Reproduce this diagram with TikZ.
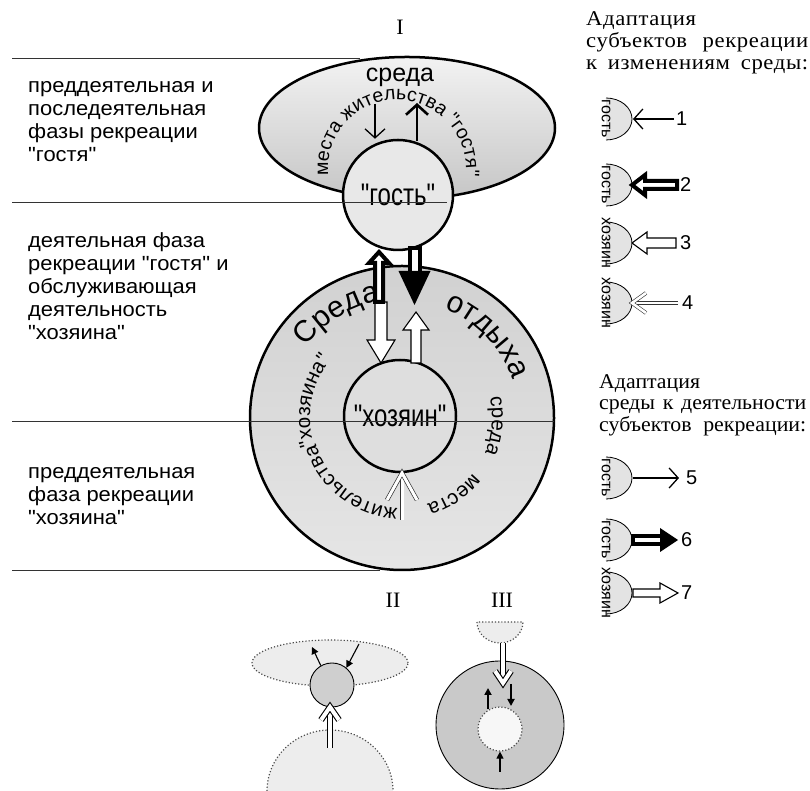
\documentclass[tikz,border=0pt]{standalone}
\usepackage{fontspec}
\setmainfont{Liberation Sans}[Ligatures=TeXOff]
\newfontfamily\tnr{Liberation Serif}
\usepackage{graphicx}
\usetikzlibrary{arrows.meta, decorations.text, shapes.arrows, positioning}

\newcommand\lblfont{\fontsize{20.5}{23}\selectfont\addfontfeatures{FakeStretch=1.07}}
\newcommand\hdrfont{\tnr\fontsize{21}{22}\selectfont\addfontfeatures{FakeStretch=1.08, LetterSpace=3}}
\newcommand\hdrfontb{\tnr\fontsize{21}{21.5}\selectfont\addfontfeatures{FakeStretch=1.04}}
\newcommand\romfont{\tnr\fontsize{22}{22}\selectfont}
\newcommand\ringbig{\fontsize{30}{30}\selectfont}
\newcommand\ringsmall{\fontsize{20.5}{21}\selectfont}
\newcommand\ringtop{\fontsize{19.5}{20}\selectfont}
\newcommand\vertfont{\fontsize{16}{16}\selectfont}
\newcommand\numfont{\fontsize{20}{20}\selectfont}

\tikzset{
  contour/.style={draw=black, line width=2.5pt},
  rule/.style={draw=black!80, line width=.8pt},
  lefttext/.style={anchor=north west, align=left, inner sep=0pt, font=\lblfont},
  halfdisk/.style={draw=black, line width=.8pt, fill=gray!22},
  dotshape/.style={draw=black!70, dotted, line width=1.2pt, fill=gray!14},
  thinarr/.style={line width=1.3pt, -{Straight Barb[length=9pt, width=20pt]}},
  thickarr/.style={line width=2.6pt, -{Straight Barb[length=10pt, width=22pt]}},
  smallarr/.style={line width=1.1pt, -{Triangle[length=7pt, width=7pt]}},
  % block arrow: length, shaft half width, head half width, head length
  pics/blockarr/.style n args={4}{code={
    \path[pic actions] (0,-#2) -- ({#1-#4},-#2) -- ({#1-#4},-#3) -- (#1,0)
      -- ({#1-#4},#3) -- ({#1-#4},#2) -- (0,#2) -- cycle;}},
  % shaft with a solid head
  pics/solidarr/.style n args={4}{code={
    \path[pic actions] (0,-#2) rectangle ({#1-#4},#2);
    \fill[black] ({#1-#4-2},-#3) -- (#1,0) -- ({#1-#4-2},#3) -- cycle;}},
  % double line arrow: length, head half width, head length
  pics/dblarr/.style n args={3}{code={
    \draw[pic actions] (0,0) -- ({#1-2},0);
    \draw[pic actions, line join=miter] ({#1-#3},-#2) -- (#1,0) -- ({#1-#3},#2);}},
}

\begin{document}
\begin{tikzpicture}[x=1pt, y=1pt]
\useasboundingbox (0,0) rectangle (810,791);

% centres
\coordinate (cell) at (407,663);
\coordinate (cring) at (397,622);
\coordinate (cbig) at (402,373);

% среда места жительства гостя
\draw[contour, top color=gray!10, bottom color=gray!45] (cell) ellipse [x radius=148, y radius=71];
% среда отдыха
\draw[contour, top color=gray!36, bottom color=gray!20] (cbig) circle [radius=152];
\node[circle, contour, fill=gray!18, minimum size=110pt, font=\fontsize{24}{24}\selectfont] (gost) at (398,596) {\scalebox{1}[1.3]{"гость"}};
\node[circle, contour, fill=gray!26, minimum size=112pt, font=\fontsize{24}{24}\selectfont] (host) at (400,375) {\scalebox{1}[1.3]{"хозяин"}};

% границы фаз
\draw[rule] (12,733) -- (360,733);
\draw[rule] (12,589) -- (447,589);
\draw[rule] (12,370) -- (554,370);
\draw[rule] (12,221) -- (380,221);

% подписи фаз
\node[lefttext] (phase1) at (28,710) {преддеятельная и\\последеятельная\\фазы рекреации\\"гостя"};
\node[lefttext] (phase2) at (28,559) {деятельная фаза\\рекреации "гостя" и\\обслуживающая\\деятельность\\"хозяина"};
\node[lefttext] (phase3) at (28,324) {преддеятельная\\фаза рекреации\\"хозяина"};

\node[font=\romfont] (romI) at (400,764) {I};

% надписи по дуге
\node[font=\fontsize{25}{25}\selectfont] (sreda) at (400,714) {среда};
\path[decorate, decoration={text along path, text align=center,
  text={|\ringtop|места жительства "гостя"}}]
  ([shift={(208:69)}]cring) arc[start angle=208, end angle=-28, radius=69];
\path[decorate, decoration={text along path, text align=center, text={|\ringbig|Среда}}]
  ([shift={(150:119)}]cbig) arc[start angle=150, end angle=94, radius=119];
\path[decorate, decoration={text along path, text align=center, text={|\ringbig|отдыха}}]
  ([shift={(78:117)}]cbig) arc[start angle=78, end angle=10, radius=117];
\path[decorate, decoration={text along path, text align=center, text={|\ringsmall|среда}}]
  ([shift={(25:90)}]cbig) arc[start angle=25, end angle=-35, radius=90];
\path[decorate, decoration={text along path, text align=center, text={|\ringsmall|места}}]
  ([shift={(-26:90)}]cbig) arc[start angle=-26, end angle=-86, radius=90];
\path[decorate, decoration={text along path, text align=center, text={|\ringsmall|жительства}}]
  ([shift={(-86:90)}]cbig) arc[start angle=-86, end angle=-170, radius=90];
\path[decorate, decoration={text along path, text align=center, text={|\ringsmall|"хозяина"}}]
  ([shift={(204:92)}]cbig) arc[start angle=204, end angle=134, radius=92];

% стрелки у гостя
\coordinate (downtail) at (375,687);
\draw[thinarr] (downtail) -- (downtail |- gost.north);
\draw[thickarr] (417,650) -- (417,688);

% стрелки между гостем и хозяином
\pic[draw=black, fill=white, line width=1.1pt, rotate=-90] at (381,489) {blockarr={61}{6}{14}{23}};
\pic[draw=black, fill=white, line width=4pt, rotate=90] at (379,489) {blockarr={50}{4}{10}{11}};
\pic[draw=black, fill=white, line width=4pt, rotate=-90] at (414.5,543) {solidarr={57}{5}{16}{32}};
\pic[draw=black, fill=white, line width=1.1pt, rotate=90] at (416,428) {blockarr={51}{5}{13}{18}};
\pic[draw=black!80, double=white, double distance=3pt, line width=.7pt, rotate=90] at (402,271) {dblarr={47}{15}{27}};

% легенда
\node[font=\hdrfont, anchor=north west, align=left, inner sep=0pt] (hdr1) at (586,780)
  {Адаптация\\\makebox[222pt][s]{субъектов рекреации}\\\makebox[222pt][s]{к изменениям среды:}};
\node[font=\hdrfontb, anchor=north west, align=left, inner sep=0pt] (hdr2) at (599,417)
  {Адаптация\\\makebox[207pt][s]{среды к деятельности}\\\makebox[207pt][s]{субъектов рекреации:}};

\foreach \y/\who/\k in {672/гость/1, 606/гость/2, 548/хозяин/3, 488/хозяин/4,
                         313/гость/5, 251/гость/6, 198/хозяин/7} {
  \draw[halfdisk] (606,\y+21) arc[start angle=90, end angle=-90, x radius=26, y radius=21];
  \node[rotate=-90, font=\vertfont, inner sep=0pt] (d\k) at (606,\y) {\who};
  \coordinate (e\k) at (633,\y);
}
\node[font=\numfont, anchor=west, inner sep=0pt] (n1) at (676,672) {1};
\node[font=\numfont, anchor=west, inner sep=0pt] (n2) at (680,606) {2};
\node[font=\numfont, anchor=west, inner sep=0pt] (n3) at (680,548) {3};
\node[font=\numfont, anchor=west, inner sep=0pt] (n4) at (682,488) {4};
\node[font=\numfont, anchor=west, inner sep=0pt] (n5) at (686,313) {5};
\node[font=\numfont, anchor=west, inner sep=0pt] (n6) at (681,251) {6};
\node[font=\numfont, anchor=west, inner sep=0pt] (n7) at (681,198) {7};

\draw[thinarr] ([xshift=-2pt]n1.west) -- (e1);
\pic[draw=black, fill=white, line width=4pt, rotate=180] at (677,606) {blockarr={45}{4}{10}{13}};
\pic[draw=black, fill=white, line width=1.1pt, rotate=180] at (676,548) {blockarr={44}{5}{11}{15}};
\pic[draw=black!80, double=white, double distance=2.6pt, line width=.6pt, rotate=180] at (678,488) {dblarr={46}{10}{14}};
\draw[thinarr] (e5) -- ([xshift=-7pt]n5.west);
\pic[draw=black, fill=white, line width=3.5pt] at (e6) {solidarr={45}{4}{12}{16}};
\pic[draw=black, fill=white, line width=1.1pt] at (e7) {blockarr={45}{4}{10}{18}};

% схема II
\node[font=\romfont] (romII) at (393,191) {II};
\draw[dotshape] (330,128) ellipse [x radius=78, y radius=23];
\draw[dotshape] (267,0) arc[start angle=180, end angle=0, x radius=63, y radius=61];
\node[circle, draw=black, line width=.9pt, fill=gray!38, minimum size=44pt] (guestII) at (332,106) {};
\draw[smallarr] (guestII.120) -- (312,144);
\draw[smallarr] (359,147) -- (guestII.50);
\pic[draw=black, double=white, double distance=4pt, line width=1.1pt, rotate=90] at (330,43) {dblarr={41}{9}{13}};

% схема III
\node[font=\romfont] (romIII) at (502,191) {III};
\draw[dotshape] (477,169) arc[start angle=180, end angle=360, x radius=23, y radius=21] -- cycle;
\draw[draw=black, line width=.9pt, fill=gray!42] (500,66) circle [radius=64];
\node[circle, dotshape, fill=gray!6, minimum size=44pt] (hostIII) at (500,62) {};
\pic[draw=black, double=white, double distance=4pt, line width=1.1pt, rotate=-90] at (503,148) {dblarr={40}{8}{12}};
\draw[smallarr, line width=1.8pt] (488,82) -- (488,103);
\draw[smallarr, line width=1.8pt] (511,107) -- (511,85);
\coordinate (uptail) at (500,19);
\draw[smallarr] (uptail) -- (hostIII.south);
\end{tikzpicture}
\end{document}
